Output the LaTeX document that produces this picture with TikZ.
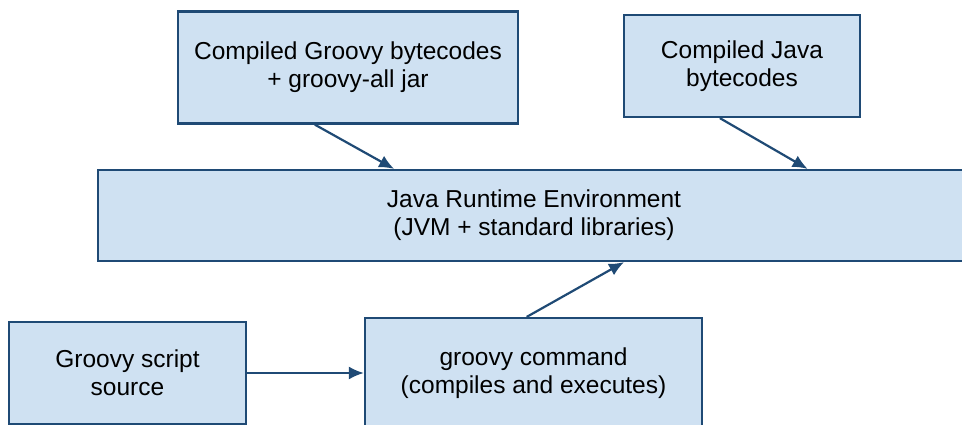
\documentclass[tikz,border=0pt]{standalone}
\usepackage{fontspec}
\setmainfont{Liberation Sans}
\usetikzlibrary{calc,arrows.meta}
\definecolor{boxfill}{HTML}{CFE1F2}
\definecolor{boxline}{HTML}{1F4A75}
\tikzset{
  x=1pt,y=-1pt,
  blk/.style={draw=boxline,line width=2.2pt,fill=boxfill,rectangle,align=center,
    font=\fontsize{24.5}{28}\selectfont,inner sep=0pt},
  conn/.style={draw=boxline,line width=2.2pt,-{Latex[length=15pt,width=13pt]}}
}
\begin{document}
\begin{tikzpicture}
\useasboundingbox (0,0) rectangle (962,424);
\clip (0,0) rectangle (962,424);
\fill[white] (0,0) rectangle (962,424);
\node[blk,minimum width=340pt,minimum height=112pt] (gb) at (348,67.5) {Compiled Groovy bytecodes\\+ groovy-all jar};
\node[blk,minimum width=236pt,minimum height=102pt] (jb) at (742,66) {Compiled Java\\bytecodes};
\node[blk,minimum width=872pt,minimum height=91pt] (jre) at (534,215.5) {Java Runtime Environment\\(JVM + standard libraries)};
\node[blk,minimum width=237pt,minimum height=102pt] (gs) at (127.5,373) {Groovy script\\source};
\node[blk,minimum width=337pt,minimum height=110pt] (cmd) at (533.5,373) {groovy command\\(compiles and executes)};
\draw[conn] ($(gb.south west)!0.403!(gb.south east)$) -- ($(jre.north west)!0.34!(jre.north east)$);
\draw[conn] ($(jb.south west)!0.407!(jb.south east)$) -- ($(jre.north west)!0.813!(jre.north east)$);
\draw[conn] (gs.east) -- (cmd.west);
\draw[conn] ($(cmd.north west)!0.48!(cmd.north east)$) -- ($(jre.south west)!0.603!(jre.south east)$);
\end{tikzpicture}
\end{document}
